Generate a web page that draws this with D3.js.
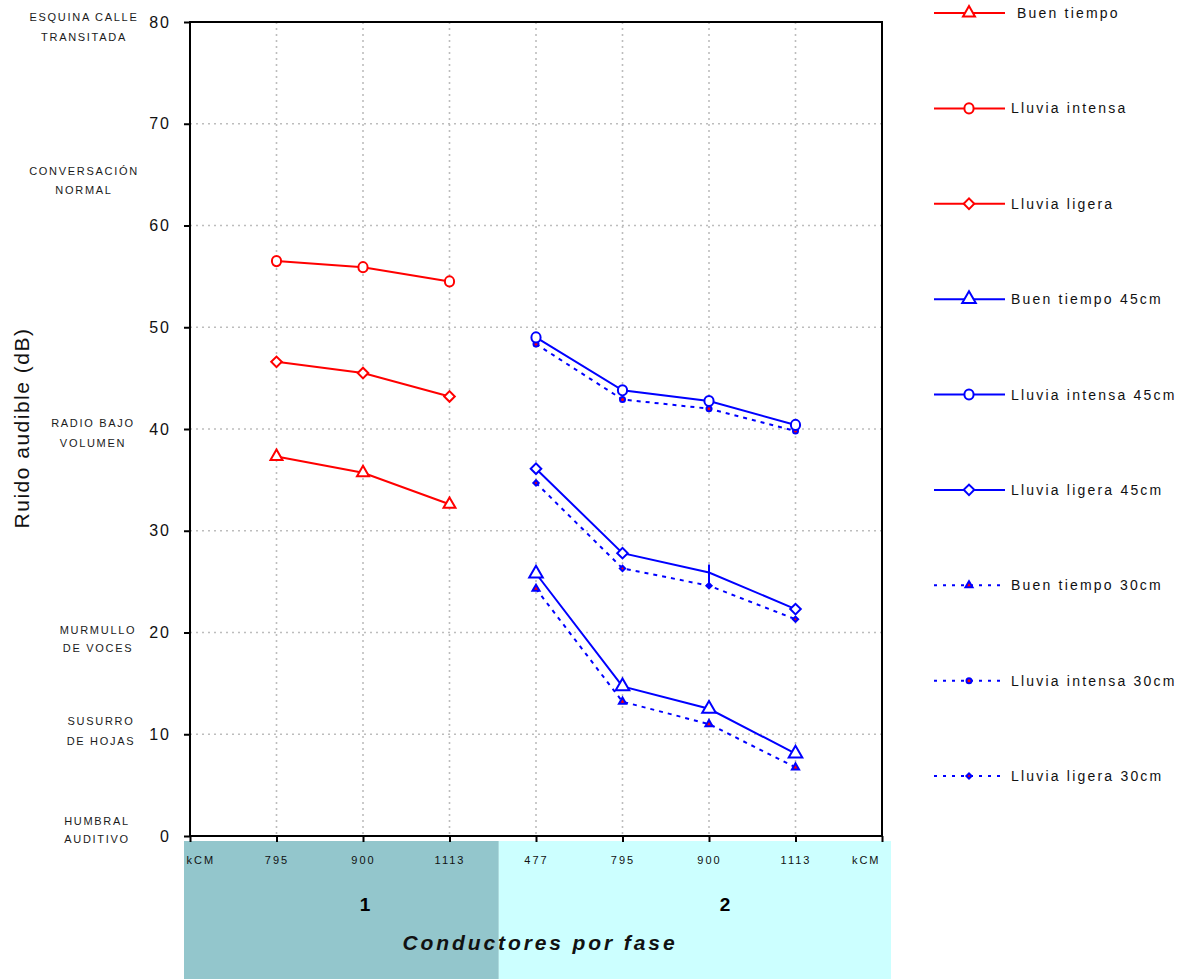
<!DOCTYPE html>
<html><head><meta charset="utf-8">
<script src="https://cdn.jsdelivr.net/npm/d3@7"></script>
<style>
html,body{margin:0;padding:0;background:#fff;}
svg{display:block;font-family:"Liberation Sans",Arial,sans-serif;}
</style></head>
<body><svg id="chart" width="1188" height="979"></svg>
<script>
// ---- DATA ----
const categoryKeys = ["k0","a795","a900","a1113","b477","b795","b900","b1113","k8"];
const categoryLabels = ["kCM","795","900","1113","477","795","900","1113","kCM"];
const group1Keys = ["a795","a900","a1113"];
const group2Keys = ["b477","b795","b900","b1113"];
const yTicks = [0,10,20,30,40,50,60,70,80];
const noiseRefs = [
  {v:80, lines:["ESQUINA CALLE","TRANSITADA"]},
  {v:65, lines:["CONVERSACIÓN","NORMAL"]},
  {v:40, lines:["RADIO BAJO","VOLUMEN"]},
  {v:20, lines:["MURMULLO","DE VOCES"]},
  {v:10, lines:["SUSURRO","DE HOJAS"]},
  {v:0,  lines:["HUMBRAL","AUDITIVO"]}
];
const groupLabels = ["1","2"];

const buenTiempo      = [37.3, 35.7, 32.6];
const lluviaIntensa   = [56.5, 55.9, 54.5];
const lluviaLigera    = [46.6, 45.5, 43.2];
const buenTiempo45    = [25.8, 14.7, 12.5, 8.1];
const lluviaIntensa45 = [49.0, 43.8, 42.75, 40.4];
const lluviaLigera45  = [36.1, 27.8, 25.9, 22.3];
const buenTiempo30    = [24.3, 13.2, 11.0, 6.75];
const lluviaIntensa30 = [48.35, 42.9, 42.0, 39.8];
const lluviaLigera30  = [34.7, 26.3, 24.6, 21.3];

const seriesDefs = [
  {name:"Buen tiempo", keys:group1Keys, values:buenTiempo, color:"#ff0000", dash:null, marker:"triangle", small:false},
  {name:"Lluvia intensa", keys:group1Keys, values:lluviaIntensa, color:"#ff0000", dash:null, marker:"circle", small:false},
  {name:"Lluvia ligera", keys:group1Keys, values:lluviaLigera, color:"#ff0000", dash:null, marker:"diamond", small:false},
  {name:"Buen tiempo 45cm", keys:group2Keys, values:buenTiempo45, color:"#0000ff", dash:null, marker:"triangle", small:false, big:true},
  {name:"Lluvia intensa 45cm", keys:group2Keys, values:lluviaIntensa45, color:"#0000ff", dash:null, marker:"circle", small:false},
  {name:"Lluvia ligera 45cm", keys:group2Keys, values:lluviaLigera45, color:"#0000ff", dash:null, marker:"diamond", small:false, pointMarkers:["diamond","diamond","vbar","diamond"]},
  {name:"Buen tiempo 30cm", keys:group2Keys, values:buenTiempo30, color:"#0000ff", dash:"4,5", marker:"triangle", small:true},
  {name:"Lluvia intensa 30cm", keys:group2Keys, values:lluviaIntensa30, color:"#0000ff", dash:"4,5", marker:"circle", small:true},
  {name:"Lluvia ligera 30cm", keys:group2Keys, values:lluviaLigera30, color:"#0000ff", dash:"4,5", marker:"diamond", small:true}
];

// ---- LAYOUT ----
const L = 190, R = 882, T = 22, B = 836;
const svg = d3.select("#chart");
const x = d3.scalePoint().domain(categoryKeys).range([L, R]);
const y = d3.scaleLinear().domain([0, 80]).range([B, T]);

// bottom band
const splitX = x("a1113") + 0.57 * x.step();
svg.append("rect").attr("x",184).attr("y",841).attr("width",splitX-184).attr("height",138).attr("fill","#93c6cc");
svg.append("rect").attr("x",splitX).attr("y",841).attr("width",891-splitX).attr("height",138).attr("fill","#ccffff");

// grid
const grid = svg.append("g").attr("stroke","#bdbdbd").attr("stroke-width",1.6).attr("stroke-dasharray","2,4");
grid.selectAll("line.h").data(yTicks.filter(t=>t>0&&t<80)).join("line")
  .attr("x1",L).attr("x2",R).attr("y1",d=>y(d)).attr("y2",d=>y(d));
grid.selectAll("line.v").data(categoryKeys.slice(1,-1)).join("line")
  .attr("x1",d=>x(d)).attr("x2",d=>x(d)).attr("y1",T).attr("y2",B);

// frame
svg.append("rect").attr("x",L).attr("y",T).attr("width",R-L).attr("height",B-T)
  .attr("fill","none").attr("stroke","#000").attr("stroke-width",2);

// y axis
const yAxis = d3.axisLeft(y).tickValues(yTicks).tickSize(6).tickPadding(13);
const gy = svg.append("g").attr("transform",`translate(${L},0)`).call(yAxis);
gy.select(".domain").remove();
gy.selectAll(".tick line").attr("stroke","#000").attr("stroke-width",2);
gy.selectAll(".tick text").attr("font-size",16).attr("letter-spacing","2px").attr("fill","#111")
  .attr("font-family","'Liberation Sans',Arial,sans-serif");

// x axis
const xAxis = d3.axisBottom(x).tickSize(6).tickPadding(14).tickFormat((d,i)=>categoryLabels[i]);
const gx = svg.append("g").attr("transform",`translate(0,${B})`).call(xAxis);
gx.select(".domain").remove();
gx.selectAll(".tick line").attr("stroke","#000").attr("stroke-width",2);
gx.selectAll(".tick text").attr("font-size",11).attr("letter-spacing","2px").attr("fill","#111")
  .attr("font-family","'Liberation Sans',Arial,sans-serif");
gx.selectAll(".tick text").filter((d,i)=>i===0).attr("text-anchor","start").attr("dx",-4);
gx.selectAll(".tick text").filter((d,i)=>i===8).attr("text-anchor","end").attr("dx",-2);

// group labels
const g1c = x("a900"), g2c = (x("b795")+x("b1113"))/2 + 16;
[g1c, g2c].forEach((cx,i)=>{
  svg.append("text").attr("x",cx+2 - (i===1?2:0)).attr("y",911).attr("text-anchor","middle")
    .attr("font-size",19).attr("font-weight","bold").text(groupLabels[i]);
});
svg.append("text").attr("x",540).attr("y",950).attr("text-anchor","middle")
  .attr("font-size",21).attr("font-weight","bold").attr("font-style","italic")
  .attr("letter-spacing","2.9px").attr("fill","#111").text("Conductores por fase");

// y title
svg.append("text").attr("transform",`translate(29,428) rotate(-90)`).attr("text-anchor","middle")
  .attr("font-size",21).attr("letter-spacing","1.5px").attr("fill","#111").text("Ruido audible (dB)");

// noise reference labels
const refXs = {80:84,65:84,40:93,20:98,10:101,0:97};
const refY = {80:[17,37],65:[171,190],40:[423,443],20:[630,648],10:[721,741],0:[821,839]};
noiseRefs.forEach(r=>{
  r.lines.forEach((t,i)=>{
    svg.append("text").attr("x",refXs[r.v]).attr("y",refY[r.v][i]+4).attr("text-anchor","middle")
      .attr("font-size",11).attr("letter-spacing","1.7px").attr("fill","#1a1a1a").text(t);
  });
});

// markers
function drawMarker(g, type, cx, cy, s, color){
  const small = s.small, big = s.big;
  const fill = small ? "#ff0000" : "#fff";
  const sw = 2;
  if(type==="vbar"){
    g.append("line").attr("x1",cx).attr("x2",cx).attr("y1",cy-8).attr("y2",cy+16)
      .attr("stroke",color).attr("stroke-width",2);
    return;
  }
  let path;
  if(type==="triangle"){
    const sz = small ? 22 : (big ? 80 : 62);
    path = d3.symbol().type(d3.symbolTriangle).size(sz)();
    g.append("path").attr("d",path).attr("transform",`translate(${cx},${cy})`)
      .attr("fill",fill).attr("stroke",color).attr("stroke-width",sw);
  } else if(type==="circle"){
    const r = small ? 2.5 : 4.6;
    g.append("ellipse").attr("cx",cx).attr("cy",cy).attr("rx",r).attr("ry",small?r:r+0.5)
      .attr("fill",fill).attr("stroke",color).attr("stroke-width",sw);
  } else if(type==="diamond"){
    const sz = small ? 14 : 56;
    path = d3.symbol().type(d3.symbolSquare).size(sz)();
    g.append("path").attr("d",path).attr("transform",`translate(${cx},${cy}) rotate(45)`)
      .attr("fill",fill).attr("stroke",color).attr("stroke-width",sw);
  }
}

const line = d3.line().x(d=>x(d.k)).y(d=>y(d.v));
const plot = svg.append("g");
const order = [6,7,8,3,4,5,0,1,2];
order.forEach(i=>{
  const s = seriesDefs[i];
  const pts = s.keys.map((k,j)=>({k, v:s.values[j]}));
  plot.append("path").attr("d",line(pts)).attr("fill","none").attr("stroke",s.color)
    .attr("stroke-width",2).attr("stroke-dasharray",s.dash);
  pts.forEach((p,j)=>{
    const t = s.pointMarkers ? s.pointMarkers[j] : s.marker;
    drawMarker(plot, t, x(p.k), y(p.v), s, s.color);
  });
});

// legend
const legY = d3.scalePoint().domain(seriesDefs.map(s=>s.name)).range([13, 776]);
const leg = svg.append("g");
seriesDefs.forEach((s,i)=>{
  const ly = legY(s.name);
  leg.append("line").attr("x1",934).attr("x2",1005).attr("y1",ly).attr("y2",ly)
    .attr("stroke",s.color).attr("stroke-width",2).attr("stroke-dasharray",s.dash ? "3,6" : null);
  drawMarker(leg, s.marker, 969, ly, s, s.color);
  leg.append("text").attr("x", i===0 ? 1017 : 1011).attr("y",ly+5)
    .attr("font-size",14).attr("letter-spacing","2.2px").attr("fill","#111").text(s.name);
});
</script></body></html>
